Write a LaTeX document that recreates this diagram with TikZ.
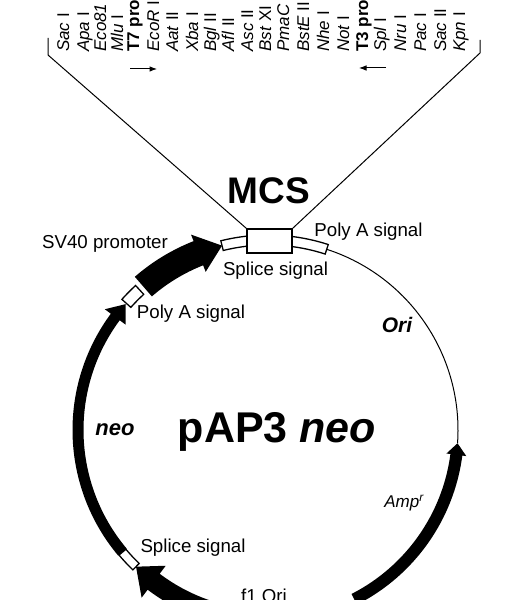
\documentclass[tikz,border=0pt]{standalone}
\usepackage{fontspec}
\setmainfont{Liberation Sans}
\usetikzlibrary{arrows.meta,positioning}

% tail angle, base of head, tip, half band, half head
\newcommand{\plasmidarrow}[5]{%
  \fill (#1:190+#4) arc[start angle=#1,end angle=#2,radius=190+#4] -- (#2:190+#5) -- (#3:190)
    -- (#2:190-#5) -- (#2:190-#4) arc[start angle=#2,end angle=#1,radius=190-#4] -- cycle;}
% white segment on the ring: from angle, to angle, half width
\newcommand{\plasmidbox}[3]{%
  \draw[boxline] (#1:190+#3) arc[start angle=#1,end angle=#2,radius=190+#3]
    -- (#2:190-#3) arc[start angle=#2,end angle=#1,radius=190-#3] -- cycle;}

\begin{document}
\begin{tikzpicture}[
  x=1pt,y=1pt,
  >=Latex,
  site/.style={rotate=90,anchor=base west,inner sep=0pt,font=\fontsize{17}{17}\selectfont},
  lab/.style={inner sep=0pt,font=\fontsize{18.7}{19}\selectfont},
  boxline/.style={draw,line width=1.3pt,fill=white},
  edge/.style={line width=1pt}
]
\useasboundingbox (0,0) rectangle (511,600);
\clip (0,0) rectangle (511,600);
% enzyme sites
\foreach \x/\a/\b [count=\i] in {69/Sac/I,89/Apa/I,106/Eco81/I,123/Mlu/I,159/EcoR/I,178/Aat/II,198/Xba/I,216/Bgl/II,234/Afl/II,253/Asc/II,271/Bst/XI,289/PmaC/I,309/BstE/II,329/Nhe/I,349/Not/I,386/Spl/I,406/Nru/I,426/Pac/I,446/Sac/II,465/Kpn/I}
  \node[site] (s\i) at (\x,548) {\textit{\a} \b};
\node[site,font=\fontsize{17}{17}\selectfont\bfseries] (t7) at (139,548) {T7 promoter};
\node[site,font=\fontsize{17}{17}\selectfont\bfseries] (t3) at (368,548) {T3 promoter};
\draw[->,edge] (130,531) coordinate (t7a) -- (157,531) coordinate (t7b);
\draw[->,edge] (386,532) coordinate (t3a) -- (359,532) coordinate (t3b);
% ring
\begin{scope}[shift={(268,170)}]
\draw[edge] (-4:190) arc[start angle=-4,end angle=72,radius=190];
\plasmidarrow{297}{352.5}{356}{6}{10}
\plasmidarrow{264}{233}{226}{10}{20}
\plasmidarrow{220}{143.5}{138.5}{5.5}{13}
\plasmidarrow{131}{111.5}{104}{13}{20}
\plasmidbox{220}{226}{4.5}
\plasmidbox{132.5}{138.2}{6}
\plasmidbox{96}{104}{5}
\plasmidbox{72}{84}{5}
\end{scope}
\node[boxline,minimum width=45pt,minimum height=24pt,inner sep=0pt] (mcs) at (269.5,359) {};
\coordinate (l1) at (48,545);
\coordinate (l2) at (48,562);
\coordinate (r1) at (480,547);
\coordinate (r2) at (480,560);
\draw[edge] (mcs.north west) -- (l1) -- (l2);
\draw[edge] (mcs.north east) -- (r1) -- (r2);
% labels
\node[lab,font=\fontsize{37}{37}\selectfont\bfseries] (title) at (269,409) {MCS};
\node[lab,font=\fontsize{43}{43}\selectfont\bfseries] (name) at (277,168) {pAP3 \textit{neo}};
\node[lab] (sv) at (105,356) {SV40 promoter};
\node[lab] (pa1) at (368.5,368) {Poly A signal};
\node[lab] (ss1) at (275.5,329) {Splice signal};
\node[lab] (pa2) at (191,286) {Poly A signal};
\node[lab,font=\fontsize{21}{21}\selectfont\bfseries\itshape] (ori) at (397,275) {Ori};
\node[lab,font=\fontsize{22}{22}\selectfont\bfseries\itshape] (neo) at (115,170) {neo};
\node[lab,font=\fontsize{17}{17}\selectfont\itshape] (amp) at (404,97) {Amp\textsuperscript{r}};
\node[lab] (ss2) at (193,52) {Splice signal};
\node[lab] (f1) at (264,4) {f1 Ori};
\end{tikzpicture}
\end{document}
